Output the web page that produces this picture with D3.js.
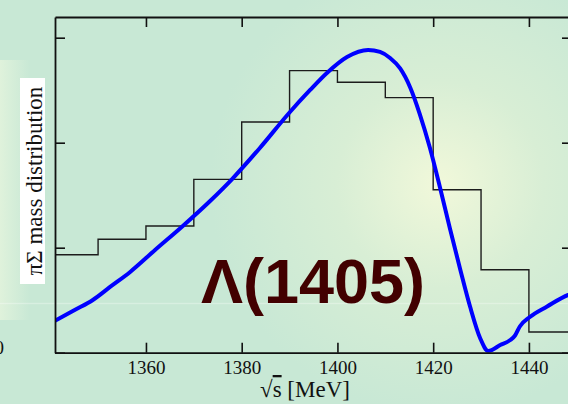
<!DOCTYPE html>
<html>
<head>
<meta charset="utf-8">
<script src="https://cdn.jsdelivr.net/npm/d3@7"></script>
<style>
  html, body { margin: 0; padding: 0; overflow: hidden; }
  svg { display: block; }
</style>
</head>
<body>
<script>
'use strict';

// histogram: lower bin edges (MeV) and heights (arb. units)
const binEdges = [1340, 1350, 1360, 1370, 1380, 1390, 1400, 1410, 1420, 1430, 1440, 1450];
const binHeights = [0.933, 1.08, 1.207, 1.651, 2.197, 2.686, 2.575, 2.429, 1.552, 0.790, 0.197];

// theory curve
const curveE = [1341.0, 1345.2, 1348.9, 1352.5, 1356.7, 1361.9, 1367.7, 1373.4, 1378.0, 1383.8,
  1389.9, 1394.3, 1397.8, 1402.0, 1406.4, 1408.9, 1411.0, 1413.1, 1415.2, 1417.2, 1419.3,
  1421.4, 1423.5, 1425.6, 1427.7, 1429.8, 1431.5, 1434.0, 1436.1, 1437.1, 1438.1, 1440.2,
  1443.8, 1448.2, 1450.0];
const curveV = [0.305, 0.409, 0.502, 0.626, 0.769, 0.978, 1.207, 1.445, 1.654, 1.950,
  2.283, 2.502, 2.664, 2.816, 2.883, 2.864, 2.807, 2.707, 2.526, 2.273, 1.954,
  1.578, 1.183, 0.802, 0.440, 0.140, 0.016, 0.073, 0.121, 0.164, 0.250, 0.340,
  0.440, 0.550, 0.575];

const xTicks = [1360, 1380, 1400, 1420, 1440];
const yTicks = [0, 1, 2, 3];

const W = 568, H = 404;
const plot = {left: 55, right: 572, top: 17, bottom: 352.7};

const svg = d3.select('body').append('svg')
  .attr('width', W)
  .attr('height', H);

// slide background
const defs = svg.append('defs');
const glow = defs.append('radialGradient')
  .attr('id', 'glow')
  .attr('gradientUnits', 'userSpaceOnUse')
  .attr('cx', 440).attr('cy', 185).attr('r', 230);
glow.append('stop').attr('offset', '0%').attr('stop-color', '#f1f8da');
glow.append('stop').attr('offset', '45%').attr('stop-color', '#d8eed5');
glow.append('stop').attr('offset', '100%').attr('stop-color', '#c8e8d5');

const edge = defs.append('linearGradient')
  .attr('id', 'edge')
  .attr('x1', 0).attr('x2', 1).attr('y1', 0).attr('y2', 0);
edge.append('stop').attr('offset', '0%').attr('stop-color', '#e2f3dc').attr('stop-opacity', 0.9);
edge.append('stop').attr('offset', '100%').attr('stop-color', '#e2f3dc').attr('stop-opacity', 0);

defs.append('clipPath').attr('id', 'plotclip')
  .append('rect')
  .attr('x', plot.left).attr('y', plot.top)
  .attr('width', plot.right - plot.left)
  .attr('height', plot.bottom - plot.top);

svg.append('rect').attr('width', W).attr('height', H).attr('fill', '#c8e8d5');
svg.append('rect').attr('width', W).attr('height', H).attr('fill', 'url(#glow)');
svg.append('rect').attr('x', 0).attr('y', 60).attr('width', 30).attr('height', 260).attr('fill', 'url(#edge)');
// faint seam in the slide image
svg.append('rect').attr('x', 0).attr('y', 302.8).attr('width', W).attr('height', 1.4)
  .attr('fill', '#ffffff').attr('opacity', 0.3);

const x = d3.scaleLinear().domain([1341, 1449]).range([plot.left, plot.right]);
const y = d3.scaleLinear().domain([0, 3.197]).range([plot.bottom, plot.top]);

const serif = 'Liberation Serif, Times New Roman, serif';

// histogram
const histPts = binHeights.map((v, i) => [binEdges[i], v]);
histPts.push([binEdges[binEdges.length - 1], binHeights[binHeights.length - 1]]);
svg.append('path')
  .attr('clip-path', 'url(#plotclip)')
  .attr('d', d3.line().x(d => x(d[0])).y(d => y(d[1])).curve(d3.curveStepAfter)(histPts))
  .attr('fill', 'none')
  .attr('stroke', '#1c1c1c')
  .attr('stroke-width', 1.4);

// theory curve
svg.append('path')
  .attr('clip-path', 'url(#plotclip)')
  .attr('d', d3.line().x((d, i) => x(curveE[i])).y(d => y(d)).curve(d3.curveMonotoneX)(curveV))
  .attr('fill', 'none')
  .attr('stroke', '#0000ff')
  .attr('stroke-width', 4)
  .attr('stroke-linejoin', 'round');

// frame and axes
const axisStyle = g => {
  g.select('.domain').attr('stroke', '#111').attr('stroke-width', 1.8);
  g.selectAll('.tick line').attr('stroke', '#111').attr('stroke-width', 1.6);
};

svg.append('g')
  .attr('transform', `translate(0,${plot.bottom})`)
  .call(d3.axisBottom(x).tickValues(xTicks).tickSizeInner(-10).tickSizeOuter(0).tickFormat(d3.format('d')))
  .call(axisStyle)
  .call(g => g.selectAll('.tick text')
    .attr('font-family', serif).attr('font-size', 19).attr('fill', '#111')
    .attr('y', 0).attr('dy', 21.5));

svg.append('g')
  .attr('transform', `translate(0,${plot.top})`)
  .call(d3.axisTop(x).tickValues(xTicks).tickSizeInner(-10).tickSizeOuter(0).tickFormat(''))
  .call(axisStyle);

svg.append('g')
  .attr('transform', `translate(${plot.left},0)`)
  .call(d3.axisLeft(y).tickValues(yTicks).tickSizeInner(-10).tickSizeOuter(0).tickFormat(''))
  .call(axisStyle);

svg.append('g')
  .attr('transform', `translate(${plot.right},0)`)
  .call(d3.axisRight(y).tickValues(yTicks).tickSizeInner(-10).tickSizeOuter(0).tickFormat(''))
  .call(axisStyle);

// y tick label (only the zero is inside the crop)
svg.append('text')
  .attr('x', 4)
  .attr('y', y(0) + 1)
  .attr('text-anchor', 'end')
  .attr('font-family', serif)
  .attr('font-size', 19)
  .attr('fill', '#111')
  .text('0');

// x axis label
const xl = svg.append('text')
  .attr('x', 305)
  .attr('y', 397)
  .attr('text-anchor', 'middle')
  .attr('font-family', serif)
  .attr('font-size', 23)
  .attr('fill', '#111');
xl.append('tspan').text('√');
xl.append('tspan').style('text-decoration', 'overline').text('s');
xl.append('tspan').text(' [MeV]');

// y axis label on its white box
svg.append('rect')
  .attr('x', 20).attr('y', 78)
  .attr('width', 25).attr('height', 206)
  .attr('fill', '#ffffff');
svg.append('text')
  .attr('transform', 'translate(42,181) rotate(-90)')
  .attr('text-anchor', 'middle')
  .attr('font-family', serif)
  .attr('font-size', 23)
  .attr('fill', '#111')
  .text('πΣ mass distribution');

// resonance label
svg.append('text')
  .attr('x', 313)
  .attr('y', 303)
  .attr('text-anchor', 'middle')
  .attr('font-family', 'Liberation Sans, Arial, sans-serif')
  .attr('font-weight', 'bold')
  .attr('font-size', 63)
  .attr('fill', '#420000')
  .text('Λ(1405)');
</script>
</body>
</html>
